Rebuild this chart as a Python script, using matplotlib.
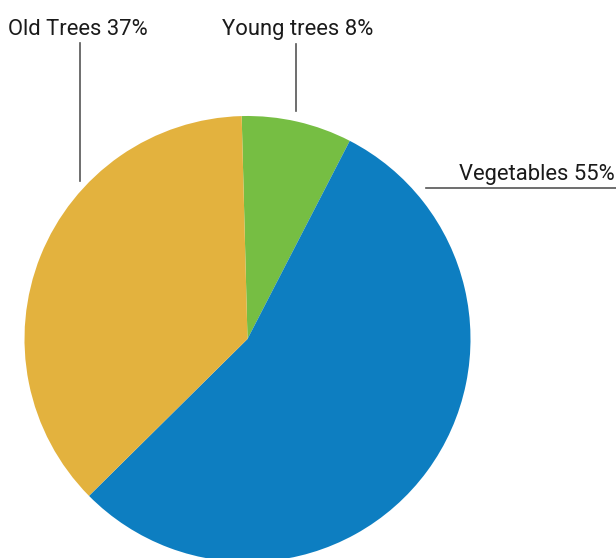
import matplotlib
matplotlib.use("Agg")
import matplotlib.pyplot as plt

categories = ["Young trees", "Vegetables", "Old Trees"]
values = [8, 55, 37]
colors = ["#76BE43", "#0D7EC1", "#E3B23E"]

W, H = 616, 558
fig = plt.figure(figsize=(W / 100, H / 100), dpi=100)
ax = fig.add_axes([0, 0, 1, 1])

cx, cy, r = 247.5, H - 339, 223
ax.pie(values, colors=colors, startangle=91.5, counterclock=False,
       center=(cx, cy), radius=r, frame=True,
       wedgeprops=dict(linewidth=0))
ax.set_xlim(0, W)
ax.set_ylim(0, H)
ax.set_aspect("auto")
ax.axis("off")

font = dict(family=["Roboto", "DejaVu Sans"], fontsize=15.8, color="#1a1a1a")
line_col = "#555555"

labels = [f"{c} {v}%" for c, v in zip(categories, values)]
# Young trees
ax.text(222, H - 35, labels[0], ha="left", va="baseline", **font)
ax.plot([296, 296], [H - 44, H - 111], color=line_col, lw=1.2)
# Vegetables
ax.text(459, H - 180, labels[1], ha="left", va="baseline", **font)
ax.plot([426, 616], [H - 188, H - 188], color=line_col, lw=1.2)
# Old Trees
ax.text(8, H - 35, labels[2], ha="left", va="baseline", **font)
ax.plot([80, 80], [H - 43, H - 181], color=line_col, lw=1.2)

fig.savefig("out.png", dpi=100)
